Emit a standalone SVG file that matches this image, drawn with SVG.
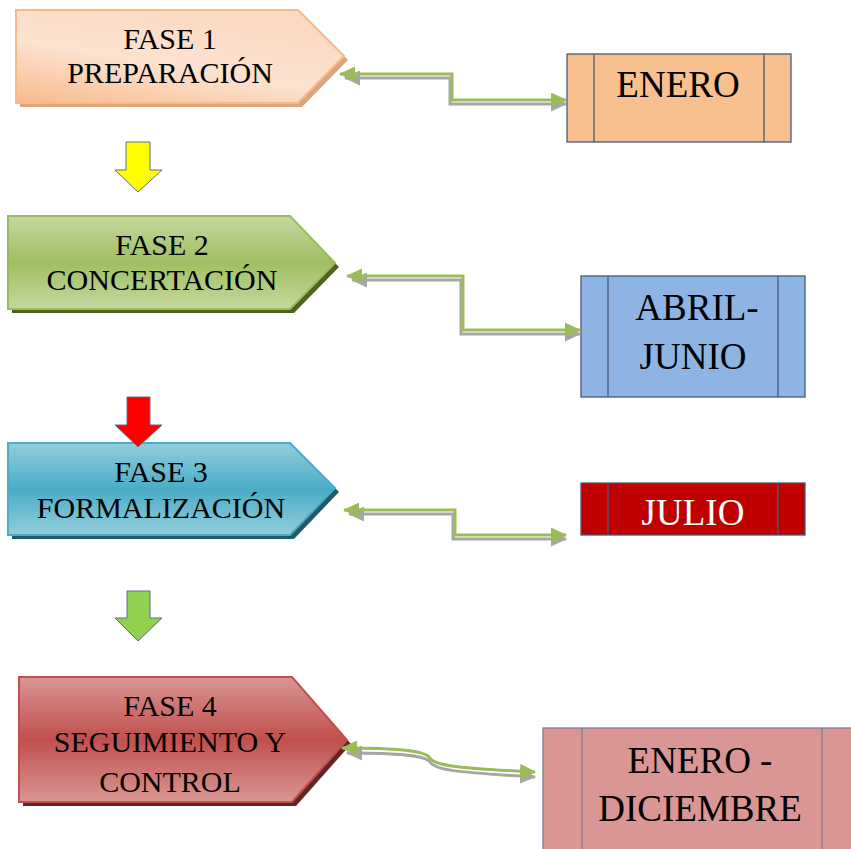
<svg xmlns="http://www.w3.org/2000/svg" width="851" height="849" viewBox="0 0 851 849">
<style>
.ph{font-family:"Liberation Serif","Times New Roman",serif;font-size:30px;fill:#000;text-anchor:middle}
.bx{font-family:"Liberation Serif","Times New Roman",serif;font-size:37px;fill:#000;text-anchor:middle}
.box{stroke:#4A5878;stroke-width:1.3}
.conn{fill:none;stroke:#9BBB59;stroke-width:3}
.shadow{fill:none;stroke:#A6A6A6;stroke-width:3}
.down{stroke:#5A6E8C;stroke-width:1}
</style>
<defs>
<linearGradient id="g1" x1="0" y1="1" x2="0.6" y2="0">
<stop offset="0" stop-color="#F8BA8C"/><stop offset="0.5" stop-color="#FCE2D0"/><stop offset="1" stop-color="#FBD9C2"/>
</linearGradient>
<linearGradient id="g2" x1="0" y1="0" x2="0" y2="1">
<stop offset="0" stop-color="#C4D89E"/><stop offset="0.5" stop-color="#A0BF62"/><stop offset="1" stop-color="#C4D89E"/>
</linearGradient>
<linearGradient id="g3" x1="0" y1="0" x2="0" y2="1">
<stop offset="0" stop-color="#93CDDD"/><stop offset="0.5" stop-color="#4BACC6"/><stop offset="1" stop-color="#93CDDD"/>
</linearGradient>
<linearGradient id="g4" x1="0" y1="0" x2="0" y2="1">
<stop offset="0" stop-color="#D99694"/><stop offset="0.5" stop-color="#C0504D"/><stop offset="1" stop-color="#D99694"/>
</linearGradient>
<marker id="ag" viewBox="0 0 16 15" refX="15" refY="7.5" markerWidth="16" markerHeight="15" markerUnits="userSpaceOnUse" orient="auto-start-reverse">
<path d="M0,0 L16,7.5 L0,15 Z" fill="#9BBB59"/>
</marker>
<marker id="as" viewBox="0 0 16 15" refX="15" refY="7.5" markerWidth="16" markerHeight="15" markerUnits="userSpaceOnUse" orient="auto-start-reverse">
<path d="M0,0 L16,7.5 L0,15 Z" fill="#A6A6A6"/>
</marker>
</defs>

<g id="fase1">
<polygon points="20,14 302,14 348,60 302,107 20,107" fill="#DDA57C"/>
<polygon points="16,10 298,10 344,56 298,103 16,103" fill="url(#g1)" stroke="#F9B88A" stroke-width="2"/>
<text class="ph" x="170" y="49">FASE 1</text>
<text class="ph" x="170" y="83">PREPARACIÓN</text>
</g>

<g id="fase2">
<polygon points="12,220 294,220 339,267 294,313 12,313" fill="#4F6228"/>
<polygon points="8,216 290,216 335,263 290,309 8,309" fill="url(#g2)" stroke="#9BBB59" stroke-width="2"/>
<text class="ph" x="162" y="255">FASE 2</text>
<text class="ph" x="162" y="290">CONCERTACIÓN</text>
</g>

<g id="fase3">
<polygon points="12,447 294,447 339,492 294,539 12,539" fill="#215968"/>
<polygon points="8,443 290,443 335,488 290,535 8,535" fill="url(#g3)" stroke="#4BACC6" stroke-width="2"/>
<text class="ph" x="161" y="482">FASE 3</text>
<text class="ph" x="161" y="518">FORMALIZACIÓN</text>
</g>

<g id="fase4">
<polygon points="23,681 296,681 351,744 296,806 23,806" fill="#632523"/>
<polygon points="19,677 292,677 347,740 292,802 19,802" fill="url(#g4)" stroke="#C0504D" stroke-width="2"/>
<text class="ph" x="170" y="716">FASE 4</text>
<text class="ph" x="170" y="752">SEGUIMIENTO Y</text>
<text class="ph" x="170" y="792">CONTROL</text>
</g>

<g id="arrow-down-1">
<polygon class="down" points="126,142 150,142 150,170 162,170 138,192 115,170 126,170" fill="#FFFF00"/>
</g>
<g id="arrow-down-2">
<polygon class="down" points="127,397 150,397 150,425 162,425 138,447 115,425 127,425" fill="#FF0000"/>
</g>
<g id="arrow-down-3">
<polygon class="down" points="127,591 150,591 150,618 162,618 138,641 115,618 127,618" fill="#92D050"/>
</g>

<g id="enero">
<rect class="box" x="567" y="54" width="224" height="88" fill="#F8BF8F"/>
<line class="box" x1="594" y1="54" x2="594" y2="142"/>
<line class="box" x1="764" y1="54" x2="764" y2="142"/>
<text class="bx" x="678" y="97">ENERO</text>
</g>

<g id="abril-junio">
<rect class="box" x="581" y="276" width="224" height="121" fill="#8EB4E3"/>
<line class="box" x1="608" y1="276" x2="608" y2="397"/>
<line class="box" x1="778" y1="276" x2="778" y2="397"/>
<text class="bx" x="697" y="320">ABRIL-</text>
<text class="bx" x="693" y="369">JUNIO</text>
</g>

<g id="julio">
<rect class="box" x="581" y="483" width="224" height="52" fill="#C00000"/>
<line class="box" x1="608" y1="483" x2="608" y2="535"/>
<line class="box" x1="778" y1="483" x2="778" y2="535"/>
<text class="bx" x="693" y="525" style="fill:#FFFFFF">JULIO</text>
</g>

<g id="enero-diciembre">
<rect x="543" y="728" width="320" height="130" fill="#D99694" stroke="#7F7F9A" stroke-width="1.3"/>
<line x1="582" y1="728" x2="582" y2="849" stroke="#7F7F9A" stroke-width="1.3"/>
<line x1="822" y1="728" x2="822" y2="849" stroke="#7F7F9A" stroke-width="1.3"/>
<text class="bx" x="700" y="773">ENERO -</text>
<text class="bx" x="700" y="821">DICIEMBRE</text>
</g>

<g id="connectors">
<path class="shadow" d="M345,78 H450 V104 H566" marker-start="url(#as)" marker-end="url(#as)"/>
<path class="conn" d="M340,74 H452 V100 H566" marker-start="url(#ag)" marker-end="url(#ag)"/>
<path class="shadow" d="M352,280 H461 V334 H580" marker-start="url(#as)" marker-end="url(#as)"/>
<path class="conn" d="M347,276 H463 V330 H580" marker-start="url(#ag)" marker-end="url(#ag)"/>
<path class="shadow" d="M349,514 H453 V539 H566" marker-start="url(#as)" marker-end="url(#as)"/>
<path class="conn" d="M344,510 H455 V535 H566" marker-start="url(#ag)" marker-end="url(#ag)"/>
<path class="shadow" d="M347,753 C404,753 426,756 430,762 C435,770 452,772 535,777" marker-start="url(#as)" marker-end="url(#as)"/>
<path class="conn" d="M342,748 C400,748 424,751 429,757 C433,765 450,768 535,772" marker-start="url(#ag)" marker-end="url(#ag)"/>
</g>
</svg>
